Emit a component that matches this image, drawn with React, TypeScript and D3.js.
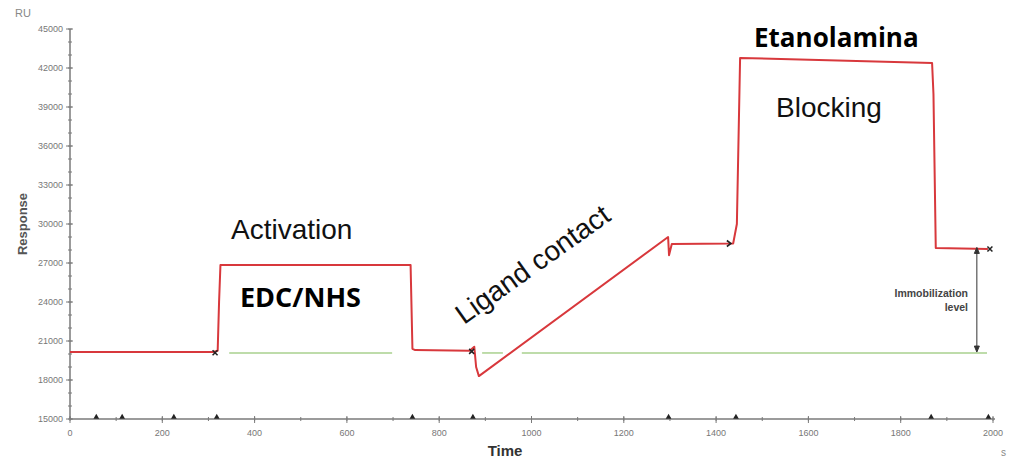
import * as d3 from "d3";

// sensorgram trace (time in s, response in RU)
const traceTime = [0, 310, 320, 323, 326, 738, 742, 748, 866, 876, 880, 886, 1296, 1298, 1304, 1437, 1445, 1452, 1868, 1871, 1876, 1989];
const traceRU = [20150, 20150, 20250, 24000, 26850, 26850, 20400, 20300, 20250, 20560, 19000, 18300, 29000, 27600, 28460, 28500, 30000, 42770, 42380, 40000, 28150, 28080];

// green baseline segments [start, end]
const baseStart = [345, 893, 979];
const baseEnd = [698, 938, 1987];
const baseRU = 20080;

// injection markers on the time axis
const eventTimes = [57, 113, 225, 318, 742, 873, 1297, 1443, 1866, 1990];

// "x" markers on the trace
const crossTime = [310, 866, 1989];
const crossRU = [20100, 20200, 28080];

const xTicks = [0, 200, 400, 600, 800, 1000, 1200, 1400, 1600, 1800, 2000];
const yTicks = [15000, 18000, 21000, 24000, 27000, 30000, 33000, 36000, 39000, 42000, 45000];

const W = 1009;
const H = 460;

export default function App() {
  const x = d3.scaleLinear().domain([0, 2000]).range([70, 993]);
  const y = d3.scaleLinear().domain([15000, 45000]).range([419, 29]);

  const pts: [number, number][] = traceTime.map((t, i) => [t, traceRU[i]]);
  const line = d3
    .line<[number, number]>()
    .x((d) => x(d[0]))
    .y((d) => y(d[1]));

  const minorX = d3.range(0, 2001, 100);
  const minorY = d3.range(15000, 45001, 1000);

  const arrowX = x(1965);
  const arrowTop = y(28200);
  const arrowBot = y(20150);

  return (
    <svg width={W} height={H} style={{ position: "absolute", left: 0, top: 0 }}>
      <rect width={W} height={H} fill="#fff" />

      {/* axes */}
      <g stroke="#7a7a7a" fill="none">
        <line x1={x(0)} x2={x(0)} y1={y(45000)} y2={y(15000)} strokeWidth={1.5} />
        <line x1={x(0)} x2={x(2000) + 2} y1={y(15000)} y2={y(15000)} strokeWidth={1.5} />
        {minorX.map((t) => (
          <line key={"mx" + t} x1={x(t)} x2={x(t)} y1={y(15000) - 2} y2={y(15000) + 2} strokeWidth={1} />
        ))}
        {xTicks.map((t) => (
          <line key={"x" + t} x1={x(t)} x2={x(t)} y1={y(15000) - 3} y2={y(15000) + 4} strokeWidth={1} />
        ))}
        {minorY.map((v) => (
          <line key={"my" + v} x1={x(0) - 2} x2={x(0) + 2} y1={y(v)} y2={y(v)} strokeWidth={1} />
        ))}
        {yTicks.map((v) => (
          <line key={"y" + v} x1={x(0) - 4} x2={x(0) + 3} y1={y(v)} y2={y(v)} strokeWidth={1} />
        ))}
      </g>
      <g fontFamily="Liberation Sans, Arial, sans-serif" fontSize={9} fill="#777">
        {xTicks.map((t) => (
          <text key={"xl" + t} x={x(t)} y={y(15000) + 17} textAnchor="middle">
            {t}
          </text>
        ))}
        {yTicks.map((v) => (
          <text key={"yl" + v} x={x(0) - 7} y={y(v) + 3} textAnchor="end">
            {v}
          </text>
        ))}
      </g>
      <text x={15} y={17} fontFamily="Liberation Sans, Arial, sans-serif" fontSize={11} fill="#888">
        RU
      </text>
      <text
        transform={`translate(27,224) rotate(-90)`}
        textAnchor="middle"
        fontFamily="Liberation Sans, Arial, sans-serif"
        fontSize={13}
        fontWeight="bold"
        fill="#555"
      >
        Response
      </text>
      <text x={505} y={456} textAnchor="middle" fontFamily="Liberation Sans, Arial, sans-serif" fontSize={15} fontWeight="bold" fill="#333">
        Time
      </text>
      <text x={1001} y={456} fontFamily="Liberation Sans, Arial, sans-serif" fontSize={10} fill="#888">
        s
      </text>

      {/* event markers on axis */}
      {eventTimes.map((t) => (
        <path
          key={"e" + t}
          d={d3.symbol(d3.symbolTriangle, 14)() ?? ""}
          transform={`translate(${x(t)},${y(15000) - 2})`}
          fill="#222"
        />
      ))}

      {/* baseline */}
      {baseStart.map((s, i) => (
        <line key={"b" + i} x1={x(s)} x2={x(baseEnd[i])} y1={y(baseRU)} y2={y(baseRU)} stroke="#a9d18e" strokeWidth={1.5} />
      ))}

      {/* trace */}
      <path d={line(pts) ?? ""} fill="none" stroke="#d8383c" strokeWidth={2} strokeLinejoin="round" />

      {crossTime.map((t, i) => (
        <path
          key={"c" + i}
          d={d3.symbol(d3.symbolX, 18)() ?? ""}
          transform={`translate(${x(t) + 2},${y(crossRU[i])})`}
          stroke="#222"
          strokeWidth={1.5}
          fill="none"
        />
      ))}
      <path
        d={`M${x(1432) - 4},${y(28500) - 3} L${x(1432)},${y(28500)} L${x(1432) - 4},${y(28500) + 3}`}
        stroke="#222"
        strokeWidth={1.6}
        fill="none"
      />

      {/* immobilization arrow */}
      <g stroke="#333" strokeWidth={1} fill="#333">
        <line x1={arrowX} x2={arrowX} y1={arrowTop + 3} y2={arrowBot - 3} />
        <path d={`M${arrowX},${arrowTop} l-2.5,6 l5,0 Z`} />
        <path d={`M${arrowX},${arrowBot} l-2.5,-6 l5,0 Z`} />
      </g>
      <g fontFamily="Liberation Sans, Arial, sans-serif" fontSize={10.5} fontWeight="bold" fill="#444" textAnchor="end">
        <text x={968} y={297}>Immobilization</text>
        <text x={968} y={311}>level</text>
      </g>

      {/* annotations */}
      <g fontFamily="Liberation Sans, Arial, sans-serif" fill="#111">
        <text x={231} y={239} fontSize={28}>
          Activation
        </text>
        <text x={776} y={117} fontSize={28}>
          Blocking
        </text>
        <text transform="translate(464,325) rotate(-35.5)" fontSize={28}>
          Ligand contact
        </text>
      </g>
      <g fontFamily="Open Sans, sans-serif" fontWeight="bold" fill="#000">
        <text x={240} y={307} fontSize={27}>
          EDC/NHS
        </text>
        <text x={754} y={47} fontSize={26}>
          Etanolamina
        </text>
      </g>
    </svg>
  );
}
